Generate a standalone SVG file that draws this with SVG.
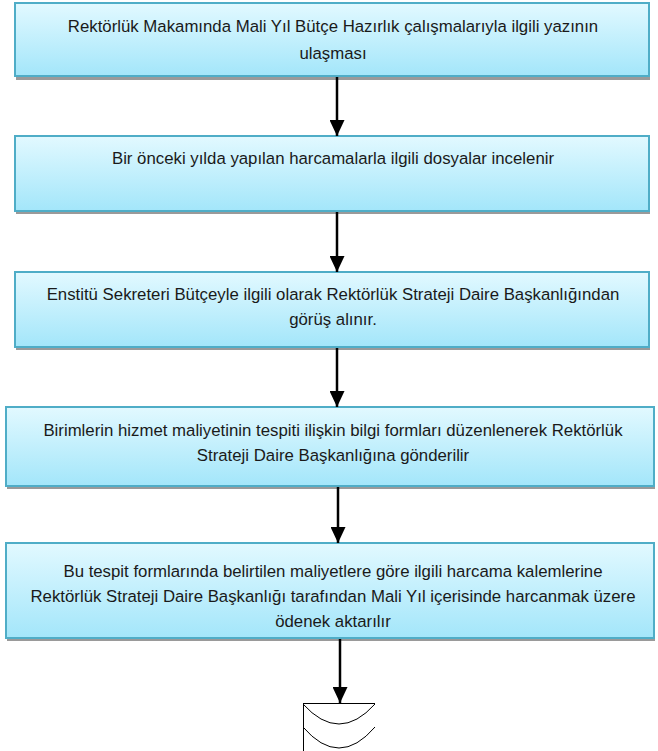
<svg xmlns="http://www.w3.org/2000/svg" width="658" height="751" viewBox="0 0 658 751">
<defs>
<linearGradient id="g" x1="0" y1="0" x2="0" y2="1">
<stop offset="0" stop-color="#E2F9FF"/>
<stop offset="1" stop-color="#A3E6FA"/>
</linearGradient>
<marker id="arr" viewBox="0 0 16 15" refX="16" refY="7.5" markerWidth="16" markerHeight="15" orient="auto" markerUnits="userSpaceOnUse">
<path d="M0,0 L16,7.5 L0,15 Z" fill="#000"/>
</marker>
</defs>
<style>
.shadow{fill:#9A9A9A}
.box{fill:url(#g);stroke:#4FADC7;stroke-width:2}
.t{font-family:"Liberation Sans",Arial,sans-serif;font-size:16.8px;fill:#1A1A1A;text-anchor:middle}
.c{stroke:#000;stroke-width:2.5;fill:none}
.thin{stroke:#000;stroke-width:1;fill:none}
</style>
<rect width="658" height="751" fill="#fff"/>

<g id="node1">
<rect class="shadow" x="16" y="6" width="634" height="74"/>
<rect class="box" x="15" y="3" width="634" height="73"/>
<text class="t" x="333" y="32">Rektörlük Makamında Mali Yıl Bütçe Hazırlık çalışmalarıyla ilgili yazının</text>
<text class="t" x="333" y="59">ulaşması</text>
</g>

<g id="node2">
<rect class="shadow" x="16" y="139" width="634" height="75"/>
<rect class="box" x="15" y="136" width="634" height="75"/>
<text class="t" x="333" y="164">Bir önceki yılda yapılan harcamalarla ilgili dosyalar incelenir</text>
</g>

<g id="node3">
<rect class="shadow" x="16" y="275" width="634" height="75"/>
<rect class="box" x="15" y="272" width="634" height="75"/>
<text class="t" x="333" y="300">Enstitü Sekreteri Bütçeyle ilgili olarak Rektörlük Strateji Daire Başkanlığından</text>
<text class="t" x="333" y="325">görüş alınır.</text>
</g>

<g id="node4">
<rect class="shadow" x="7" y="410" width="648" height="79"/>
<rect class="box" x="6" y="407" width="648" height="79"/>
<text class="t" x="333" y="436">Birimlerin hizmet maliyetinin tespiti ilişkin bilgi formları düzenlenerek Rektörlük</text>
<text class="t" x="333" y="461">Strateji Daire Başkanlığına gönderilir</text>
</g>

<g id="node5">
<rect class="shadow" x="7" y="546" width="648" height="95"/>
<rect class="box" x="6" y="543" width="648" height="95"/>
<text class="t" x="333" y="577">Bu tespit formlarında belirtilen maliyetlere göre ilgili harcama kalemlerine</text>
<text class="t" x="333" y="602">Rektörlük Strateji Daire Başkanlığı tarafından Mali Yıl içerisinde harcanmak üzere</text>
<text class="t" x="333" y="627">ödenek aktarılır</text>
</g>

<g id="offpage">
<path class="thin" d="M303,703.5 H375 M303.5,703 V751"/>
<path class="thin" d="M303,704 Q339,744 375,704"/>
<path class="thin" d="M303,727 Q339,769 375,727"/>
</g>

<g id="connectors">
<path class="c" d="M337,77 V136" marker-end="url(#arr)"/>
<path class="c" d="M337,212 V272" marker-end="url(#arr)"/>
<path class="c" d="M337,348 V407" marker-end="url(#arr)"/>
<path class="c" d="M338,487 V543" marker-end="url(#arr)"/>
<path class="c" d="M340,639 V703" marker-end="url(#arr)"/>
</g>
</svg>
